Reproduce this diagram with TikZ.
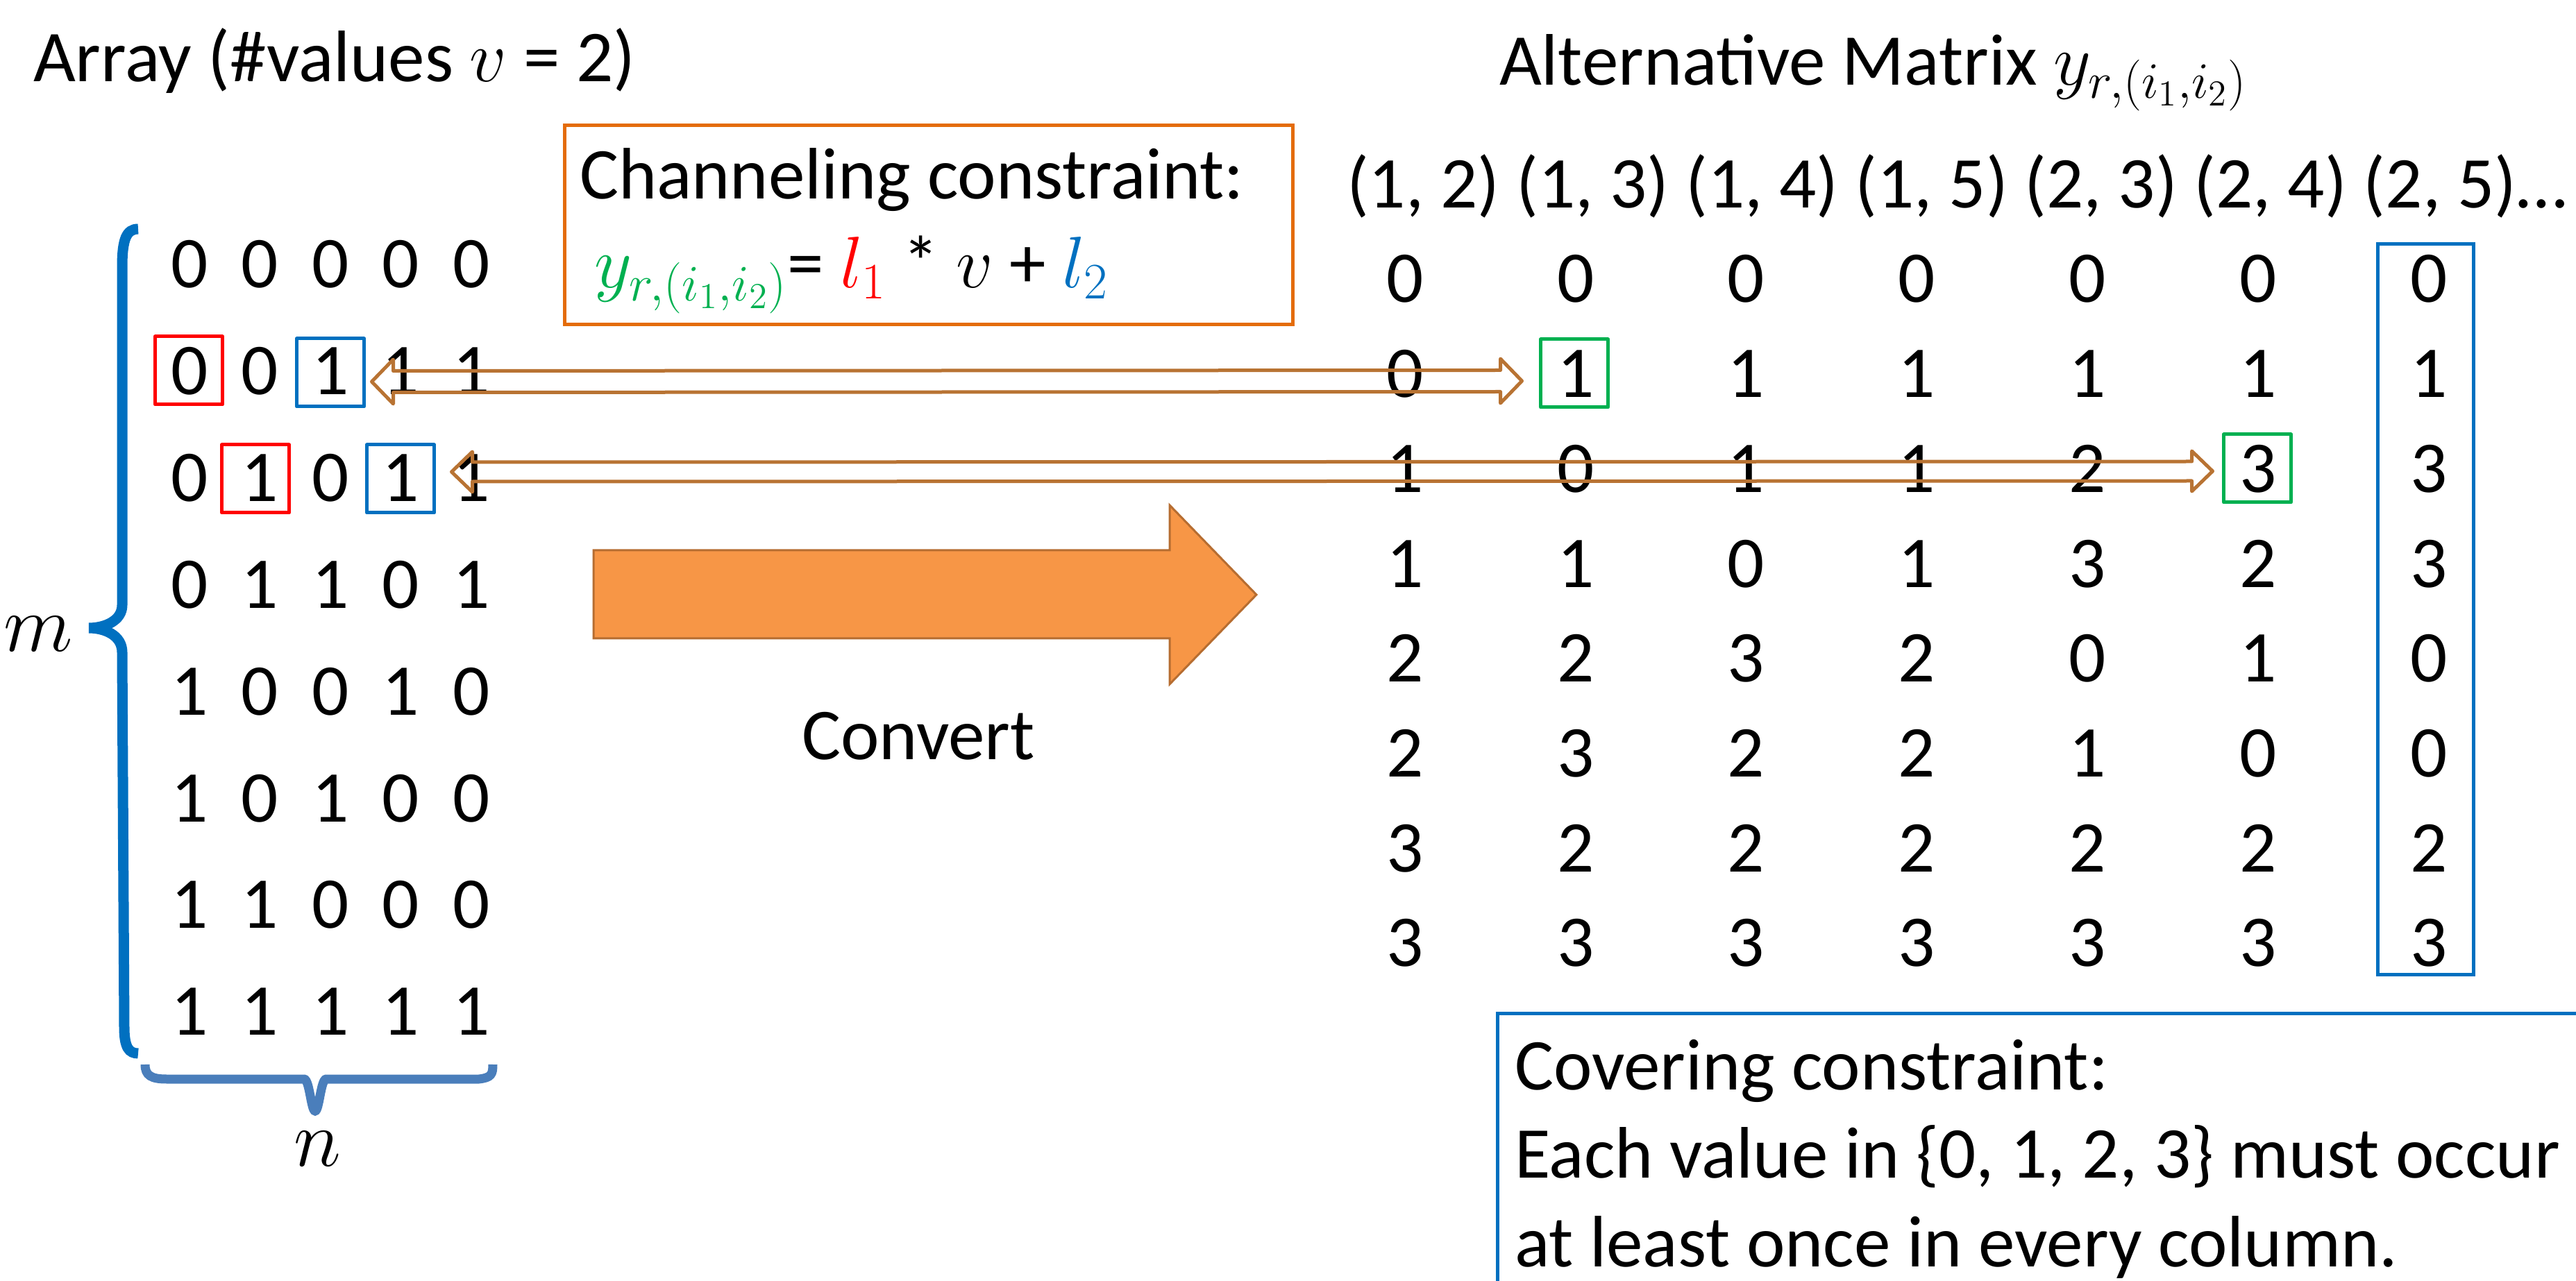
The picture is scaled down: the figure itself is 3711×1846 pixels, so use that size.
\RequirePackage{fix-cm}
\documentclass[tikz,border=0pt]{standalone}
\usepackage{fontspec}
\setmainfont{Carlito}
\usetikzlibrary{calc,fit}
\newdimen\px \px=0.01cm
\definecolor{myorange}{HTML}{E46C0A}
\definecolor{arrfill}{HTML}{F79646}
\definecolor{arredge}{HTML}{B66D31}
\definecolor{brownarr}{HTML}{B87333}
\definecolor{myblue}{HTML}{0070C0}
\definecolor{bracen}{HTML}{4A7EBB}
\definecolor{mygreen}{HTML}{00B050}
\definecolor{myred}{HTML}{FF0000}
\newcommand\hollowarrow[5]{%
  \draw[brownline] (#1) -- ++(#5,-#4) -- ++(0,#4-#3) -- ($(#2)+(-#5,-#3)$) -- ++(0,#3-#4) -- (#2)
    -- ++(-#5,#4) -- ++(0,#3-#4) -- ($(#1)+(#5,#3)$) -- ++(0,#4-#3) -- cycle;}
\begin{document}
\begin{tikzpicture}[x=0.01cm,y=-0.01cm,
  every node/.style={inner sep=0pt,outer sep=0pt,font=\fontsize{29.9}{36}\selectfont},
  txt/.style={anchor=base west},
  dig/.style={anchor=base},
  biglab/.style={anchor=base,font=\fontsize{33}{40}\selectfont},
  hibox/.style={draw,line width=5\px,line join=round,minimum width=97\px,minimum height=98\px},
  redbox/.style={hibox,draw=myred},
  bluebox/.style={hibox,draw=myblue},
  greenbox/.style={hibox,draw=mygreen},
  brownline/.style={draw=brownarr,line width=5\px,line join=round},
  bigarrow/.style={fill=arrfill,draw=arredge,line width=3\px,line join=miter},
  bracem/.style={draw=myblue,line width=15\px},
  bracen/.style={draw=bracen,line width=13\px}]
\useasboundingbox (0,0) rectangle (3711,1846);
\clip (0,0) rectangle (3711,1846);

% titles
\node[txt] (t1) at (48,118) {Array (\#values $v$ = 2)};
\node[txt] (t2) at (2160,123) {Alternative Matrix $y_{r,(i_1,i_2)}$};

% channeling constraint box
\node[draw=myorange,line width=5\px,minimum width=1049\px,minimum height=287\px] (chan) at (1338,324) {};
\node[txt] (c1) at (835,287) {Channeling constraint:};
\node[txt] (c2) at (856,415) {$\color{mygreen}y_{r,(i_1,i_2)}$= $\color{myred}l_1$ * $v$ + $\color{myblue}l_2$};

% array
\foreach \r [count=\i from 0] in {{0,0,0,0,0},{0,0,1,1,1},{0,1,0,1,1},{0,1,1,0,1},{1,0,0,1,0},{1,0,1,0,0},{1,1,0,0,0},{1,1,1,1,1}} {
  \foreach \v [count=\j from 0] in \r {
    \node[dig] (a-\i-\j) at ({273+101.5*\j},{415+153.8*\i}) {\v};
  }
}

% header row and alternative matrix
\node[txt] (hdr) at (1940,300) {(1, 2) (1, 3) (1, 4) (1, 5) (2, 3) (2, 4) (2, 5)…};
\foreach \r [count=\i from 0] in {{0,0,0,0,0,0,0},{0,1,1,1,1,1,1},{1,0,1,1,2,3,3},{1,1,0,1,3,2,3},{2,2,3,2,0,1,0},{2,3,2,2,1,0,0},{3,2,2,2,2,2,2},{3,3,3,3,3,3,3}} {
  \foreach \v [count=\j from 0] in \r {
    \node[dig] (m-\i-\j) at ({2024+245.8*\j},{436+136.7*\i}) {\v};
  }
}

% highlight boxes
\node[redbox] (r1) at (272,534) {};
\node[bluebox] (b1) at (476,537) {};
\node[redbox] (r2) at (368,690) {};
\node[bluebox] (b2) at (577,690) {};
\node[greenbox] (g1) at (2268,538) {};
\node[greenbox] (g2) at (3252,675) {};
\node[draw=myblue,line width=5\px,minimum width=138\px,minimum height=1052\px] (col) at (3494,878) {};

% hollow double arrows
\coordinate (p1l) at ($(b1.east)+(11,13)$);
\coordinate (p1r) at ($(g1.west)+(-27,11)$);
\coordinate (p2l) at ($(b2.east)+(25,-10)$);
\coordinate (p2r) at ($(g2.west)+(-16,4)$);
\hollowarrow{p1l}{p1r}{15.5}{32}{31}
\hollowarrow{p2l}{p2r}{14}{29}{30}

% big convert arrow
\draw[bigarrow] (855,793) -- (1685,793) -- (1685,728) -- (1810,857) -- (1685,986) -- (1685,920) -- (855,920) -- cycle;
\node[dig] (conv) at (1323,1094) {Convert};

% braces
\draw[bracem] (199,330) .. controls (182,330) and (176,345) .. (176,385) -- (176,872)
  .. controls (176,895) and (150,905) .. (128,905)
  .. controls (150,905) and (176,915) .. (176,940) -- (179,1480)
  .. controls (179,1510) and (186,1518) .. (199,1518);
\node[biglab] (mlab) at (55,939) {$m$};
\draw[bracen] (209,1534) .. controls (209,1550) and (218,1555) .. (240,1555) -- (438,1555)
  .. controls (446,1555) and (448,1601) .. (454,1601)
  .. controls (460,1601) and (462,1555) .. (470,1555) -- (690,1555)
  .. controls (708,1553) and (710,1548) .. (710,1534);
\node[biglab] (nlab) at (457,1680) {$n$};

% covering constraint box
\draw[draw=myblue,line width=5\px] (2157,1460) rectangle (3800,1900);
\node[txt] (cv1) at (2182,1570) {Covering constraint:};
\node[txt] (cv2) at (2182,1697) {Each value in \{0, 1, 2, 3\} must occur};
\node[txt] (cv3) at (2182,1825) {at least once in every column.};
\end{tikzpicture}
\end{document}
